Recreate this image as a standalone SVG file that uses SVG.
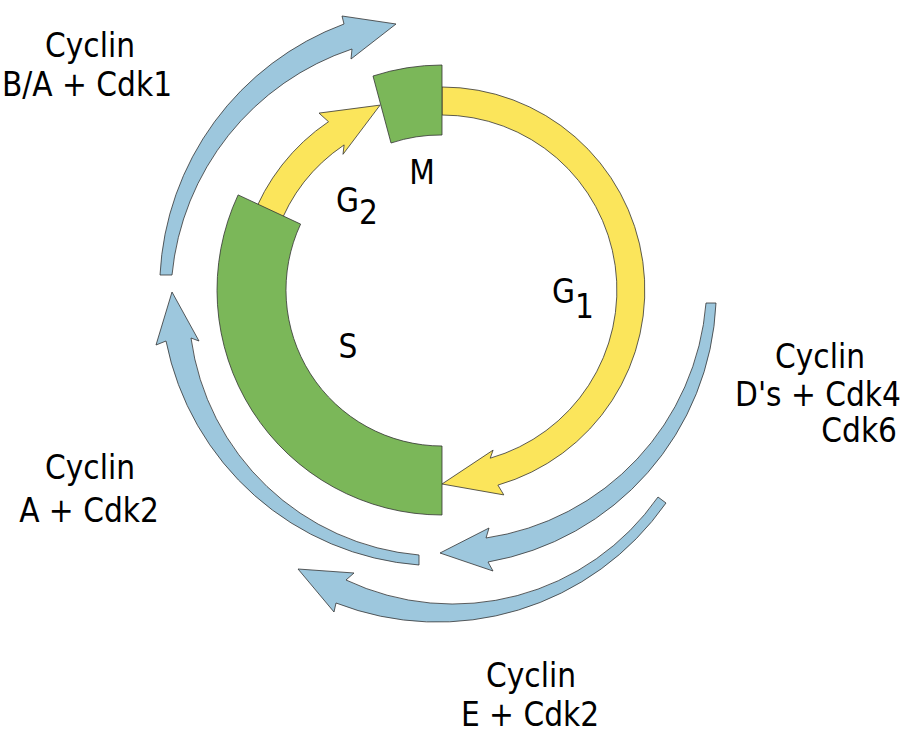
<svg xmlns="http://www.w3.org/2000/svg" width="910" height="748" viewBox="0 0 910 748">
<style>
  .yel{fill:#fbe55b;stroke:#333;stroke-width:0.8;stroke-linejoin:miter}
  .grn{fill:#7bb759;stroke:#333;stroke-width:0.8}
  .blu{fill:#9dc7dd;stroke:#333;stroke-width:0.8;stroke-linejoin:miter}
  text{font-family:"DejaVu Sans Condensed","DejaVu Sans",sans-serif;font-stretch:condensed;font-size:33px;fill:#000}
  .c{text-anchor:middle}
  .e{text-anchor:end}
</style>
<rect width="910" height="748" fill="#fff"/>
<g id="connectors">
  <path id="arrow-BA-Cdk1" class="blu" d="M160,275 A283,283 0 0 1 344,24 L342,16 L396,24 L351,59 L352,49 A265,265 0 0 0 172,275 Z"/>
  <path id="arrow-A-Cdk2" class="blu" d="M419,565 A279,279 0 0 1 166,341 L156,345 L172,292 L199,341 L191,338 A252,252 0 0 0 419,555 Z"/>
  <path id="arrow-D-Cdk46" class="blu" d="M716,303 A275,275 0 0 1 488,562 L493,571 L440,553 L489,528 L486,538 A258,258 0 0 0 706,303 Z"/>
  <path id="arrow-E-Cdk2" class="blu" d="M666,503 A279,279 0 0 1 336,603 L334,612 L298,569 L354,573 L346,580 A250,250 0 0 0 658,497 Z"/>
</g>
<g id="G1">
  <path class="yel" d="M442,87 A203,203 0 0 1 497.9,485.1 L503.8,494.9 L442,484 L493.1,450.1 L490.2,458.2 A175,175 0 0 0 442,115 Z"/>
  <text x="552" y="303">G<tspan dy="15">1</tspan></text>
</g>
<g id="G2">
  <path class="yel" d="M251.2,220.6 A203,203 0 0 1 328.5,121.7 L319,113.1 L380.1,105.1 L343,154.3 L344.1,144.9 A175,175 0 0 0 277.6,230.2 Z"/>
  <text x="336" y="212">G<tspan dy="12">2</tspan></text>
</g>
<g id="S">
  <path class="grn" d="M442,515 A225,225 0 0 1 238.1,194.9 L300.6,224.1 A156,156 0 0 0 442,446 Z"/>
  <text class="c" x="348" y="358">S</text>
</g>
<g id="M">
  <path class="grn" d="M373,76 A225,225 0 0 1 442,65 L442,135 A155,155 0 0 0 391,143 Z"/>
  <text class="c" x="422" y="184">M</text>
</g>
<g id="label-BA-Cdk1">
  <text class="c" x="90" y="57">Cyclin</text>
  <text class="c" x="87" y="96">B/A + Cdk1</text>
</g>
<g id="label-A-Cdk2">
  <text class="c" x="90" y="479">Cyclin</text>
  <text class="c" x="89" y="522">A + Cdk2</text>
</g>
<g id="label-D-Cdk46">
  <text class="c" x="820" y="368">Cyclin</text>
  <text class="c" x="818" y="406">D's + Cdk4</text>
  <text class="e" x="897" y="442">Cdk6</text>
</g>
<g id="label-E-Cdk2">
  <text class="c" x="531" y="687">Cyclin</text>
  <text class="c" x="530" y="726">E + Cdk2</text>
</g>
</svg>
